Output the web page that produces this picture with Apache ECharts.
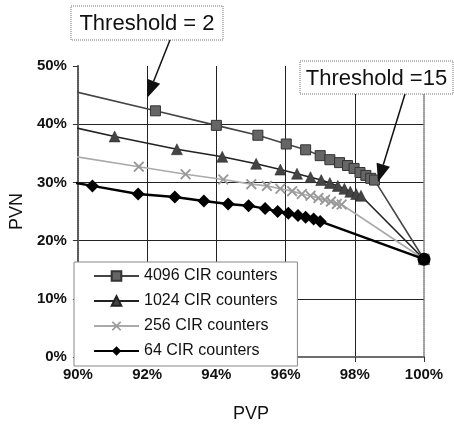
<!DOCTYPE html>
<html>
<head>
<meta charset="utf-8">
<script src="https://cdn.jsdelivr.net/npm/echarts@6/dist/echarts.min.js"></script>
<style>
html,body{margin:0;padding:0;background:#fff;}
#c{width:454px;height:428px;}
</style>
</head>
<body>
<div id="c"></div>
<script>
// ---- data (PVP %, PVN %) ----
const seriesNames = ['4096 CIR counters', '1024 CIR counters', '256 CIR counters', '64 CIR counters'];
const pvp4096 = [89.0, 92.24, 94.0, 95.2, 96.02, 96.58, 97.0, 97.28, 97.56, 97.79, 97.98, 98.15, 98.32, 98.46, 98.57, 100];
const pvn4096 = [46.9, 42.3, 39.8, 38.1, 36.6, 35.6, 34.6, 33.9, 33.4, 32.9, 32.4, 31.7, 31.2, 30.7, 30.4, 16.8];
const pvp1024 = [89.0, 91.06, 92.86, 94.17, 95.15, 95.85, 96.33, 96.72, 97.03, 97.28, 97.51, 97.70, 97.87, 98.04, 98.18, 100];
const pvn1024 = [40.6, 37.9, 35.7, 34.4, 33.2, 32.2, 31.5, 30.9, 30.4, 29.9, 29.4, 28.9, 28.4, 28.0, 27.7, 16.8];
const pvp256 = [89.0, 91.76, 93.11, 94.20, 95.01, 95.46, 95.85, 96.19, 96.47, 96.72, 96.95, 97.14, 97.31, 97.48, 97.62, 100];
const pvn256 = [35.3, 32.7, 31.4, 30.5, 29.7, 29.4, 28.9, 28.5, 28.0, 27.7, 27.3, 27.0, 26.7, 26.3, 26.2, 16.8];
const pvp64 = [89.0, 90.42, 91.74, 92.80, 93.64, 94.34, 94.93, 95.41, 95.77, 96.08, 96.36, 96.58, 96.81, 97.00, 100];
const pvn64 = [30.9, 29.4, 28.0, 27.5, 26.8, 26.3, 26.0, 25.5, 25.0, 24.7, 24.3, 24.0, 23.7, 23.3, 16.8];
const xTicks = [90, 92, 94, 96, 98, 100];
const yTicks = [0, 10, 20, 30, 40, 50];
const annot1 = 'Threshold = 2';
const annot2 = 'Threshold =15';

const zip = (a, b) => a.map((v, i) => [v, b[i]]);
const FONT = 'Liberation Sans, Arial, sans-serif';
const xSym = 'path://M0,1.2 L1.2,0 L5,3.8 L8.8,0 L10,1.2 L6.2,5 L10,8.8 L8.8,10 L5,6.2 L1.2,10 L0,8.8 L3.8,5 Z';

function arrow(x1, y1, x2, y2) {
  const dx = x2 - x1, dy = y2 - y1, L = Math.hypot(dx, dy);
  const ux = dx / L, uy = dy / L, nx = -uy, ny = ux;
  const hl = 18, hw = 7;
  const bx = x2 - hl * ux, by = y2 - hl * uy;
  return [
    { type: 'line', shape: { x1: x1, y1: y1, x2: bx, y2: by }, style: { stroke: '#111', lineWidth: 1.5 }, z: 100 },
    { type: 'polygon', shape: { points: [[x2, y2], [bx + hw * nx, by + hw * ny], [bx - hw * nx, by - hw * ny]] }, style: { fill: '#111' }, z: 100 }
  ];
}
function box(x, y, w, h, text) {
  return [
    { type: 'rect', shape: { x: x, y: y, width: w, height: h }, style: { fill: '#fff', stroke: '#777', lineWidth: 1, lineDash: [1, 1] }, z: 100 },
    { type: 'text', x: x + w / 2, y: y + h / 2 + 1, style: { text: text, font: '22px ' + FONT, fill: '#111', textAlign: 'center', textVerticalAlign: 'middle' }, z: 101 }
  ];
}

const data64 = zip(pvp64, pvn64).map((p, i, a) => i === a.length - 1 ? { value: p, symbol: 'circle', symbolSize: 13 } : p);

const chart = echarts.init(document.getElementById('c'));
const axisLab = { fontFamily: FONT, fontSize: 15, fontWeight: 'bold', color: '#111' };
chart.setOption({
  animation: false,
  backgroundColor: '#fff',
  grid: { left: 67, right: 30, top: 66, bottom: 64 },
  xAxis: [{
    type: 'value', min: 90, max: 100, interval: 2,
    name: 'PVP', nameLocation: 'middle', nameGap: 48,
    nameTextStyle: { fontFamily: FONT, fontSize: 18, color: '#111' },
    axisLine: { lineStyle: { color: '#555', width: 2, type: [1, 1] } },
    axisTick: { show: true, length: 5, lineStyle: { color: '#333' } },
    axisLabel: Object.assign({ margin: 10, formatter: v => xTicks.includes(v) ? v + '%' : '' }, axisLab),
    splitLine: { show: true, showMinLine: false, showMaxLine: false, lineStyle: { color: '#222', width: 1 } }
  }, {
    type: 'value', min: 90, max: 100, position: 'top',
    axisLine: { show: true, lineStyle: { color: '#777', width: 1.5, type: [1, 1] } },
    axisTick: { show: false }, axisLabel: { show: false }, splitLine: { show: false }
  }],
  yAxis: [{
    type: 'value', min: 0, max: 50, interval: 10,
    name: 'PVN', nameLocation: 'middle', nameGap: 40, nameRotate: 90,
    nameTextStyle: { fontFamily: FONT, fontSize: 18, color: '#111' },
    axisLine: { show: true, lineStyle: { color: '#555', width: 2, type: [1, 1] } },
    axisTick: { show: true, length: 5, lineStyle: { color: '#333' } },
    axisLabel: Object.assign({ margin: 11, formatter: v => yTicks.includes(v) ? v + '%' : '' }, axisLab),
    splitLine: { show: true, showMinLine: false, showMaxLine: false, lineStyle: { color: '#222', width: 1 } }
  }, {
    type: 'value', min: 0, max: 50, position: 'right',
    axisLine: { show: true, lineStyle: { color: '#777', width: 1.5, type: [1, 1] } },
    axisTick: { show: false }, axisLabel: { show: false }, splitLine: { show: false }
  }],
  legend: {
    orient: 'vertical', left: 74, top: 262,
    data: seriesNames,
    itemWidth: 45, itemHeight: 12, itemGap: 7,
    padding: [5, 20, 6, 19],
    backgroundColor: '#fff', borderColor: '#888', borderWidth: 1,
    textStyle: { fontFamily: FONT, fontSize: 16, color: '#111', lineHeight: 18 }
  },
  series: [
    { name: seriesNames[0], type: 'line', clip: true, data: zip(pvp4096, pvn4096),
      symbol: 'rect', symbolSize: 10,
      lineStyle: { color: '#444', width: 1.6 },
      itemStyle: { color: '#666', borderColor: '#333', borderWidth: 1 } },
    { name: seriesNames[1], type: 'line', clip: true, data: zip(pvp1024, pvn1024),
      symbol: 'triangle', symbolSize: 11,
      lineStyle: { color: '#222', width: 1.6 },
      itemStyle: { color: '#444', borderColor: '#222', borderWidth: 0.5 } },
    { name: seriesNames[2], type: 'line', clip: true, data: zip(pvp256, pvn256),
      symbol: xSym, symbolSize: 11,
      lineStyle: { color: '#aaa', width: 1.6 },
      itemStyle: { color: '#999' } },
    { name: seriesNames[3], type: 'line', clip: true, data: data64,
      symbol: 'diamond', symbolSize: 13,
      lineStyle: { color: '#000', width: 2.4 },
      itemStyle: { color: '#000' } }
  ],
  graphic: [].concat(
    box(71, 6, 152, 34, annot1),
    box(300, 61, 153, 33, annot2),
    arrow(170, 40, 147, 98),
    arrow(405, 94, 378, 182)
  )
});
</script>
</body>
</html>
